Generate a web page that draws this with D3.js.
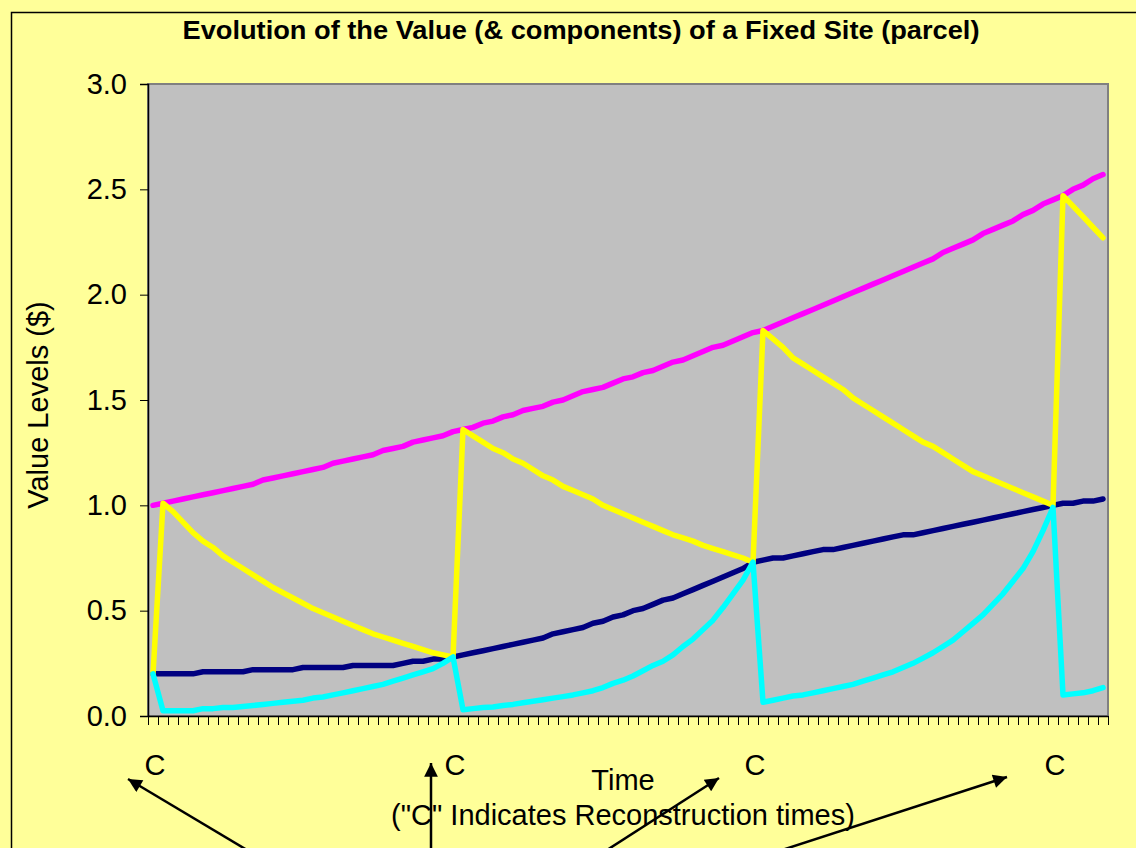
<!DOCTYPE html>
<html>
<head>
<meta charset="utf-8">
<script src="https://cdn.jsdelivr.net/npm/d3@7"></script>
<style>
  html, body { margin: 0; padding: 0; background: #FFFF99; }
  svg { display: block; }
  text { font-family: "Liberation Sans", Arial, sans-serif; }
</style>
</head>
<body>
<svg id="chart" width="1136" height="848"></svg>
<script>
// ---------------- DATA ----------------
const periods = d3.range(96); // time periods (categories)
const reconstructionPeriods = [0, 30, 60, 90];
const reconstructionLabels = ["C", "C", "C", "C"];
const yTickValues = [0, 0.5, 1.0, 1.5, 2.0, 2.5, 3.0];

// magenta: value of a new property on the site
const newPropertyValue = [
  1.00,1.01,1.02,1.03,1.04,1.05,1.06,1.07,1.08,1.09,
  1.10,1.12,1.13,1.14,1.15,1.16,1.17,1.18,1.20,1.21,
  1.22,1.23,1.24,1.26,1.27,1.28,1.30,1.31,1.32,1.33,
  1.35,1.36,1.37,1.39,1.40,1.42,1.43,1.45,1.46,1.47,
  1.49,1.50,1.52,1.54,1.55,1.56,1.58,1.60,1.61,1.63,
  1.64,1.66,1.68,1.69,1.71,1.73,1.75,1.76,1.78,1.80,
  1.82,1.83,1.85,1.87,1.89,1.91,1.93,1.95,1.97,1.99,
  2.01,2.03,2.05,2.07,2.09,2.11,2.13,2.15,2.17,2.20,
  2.22,2.24,2.26,2.29,2.31,2.33,2.35,2.38,2.40,2.43,
  2.45,2.47,2.50,2.52,2.55,2.57
];
// navy
const landValue = [
  0.20,0.20,0.20,0.20,0.20,0.21,0.21,0.21,0.21,0.21,
  0.22,0.22,0.22,0.22,0.22,0.23,0.23,0.23,0.23,0.23,
  0.24,0.24,0.24,0.24,0.24,0.25,0.26,0.26,0.27,0.27,
  0.28,0.29,0.30,0.31,0.32,0.33,0.34,0.35,0.36,0.37,
  0.39,0.40,0.41,0.42,0.44,0.45,0.47,0.48,0.50,0.51,
  0.53,0.55,0.56,0.58,0.60,0.62,0.64,0.66,0.68,0.70,
  0.73,0.74,0.75,0.75,0.76,0.77,0.78,0.79,0.79,0.80,
  0.81,0.82,0.83,0.84,0.85,0.86,0.86,0.87,0.88,0.89,
  0.90,0.91,0.92,0.93,0.94,0.95,0.96,0.97,0.98,0.99,
  1.00,1.01,1.01,1.02,1.02,1.03
];
// yellow
const propertyValue = [
  0.20,1.01,0.97,0.92,0.87,0.83,0.80,0.76,0.73,0.70,
  0.67,0.64,0.61,0.585,0.56,0.535,0.51,0.49,0.47,0.45,
  0.43,0.41,0.39,0.375,0.36,0.345,0.33,0.315,0.30,0.29,
  0.28,1.36,1.33,1.30,1.27,1.25,1.22,1.20,1.17,1.14,
  1.12,1.09,1.07,1.05,1.03,1.00,0.98,0.96,0.94,0.92,
  0.90,0.88,0.86,0.845,0.83,0.81,0.795,0.78,0.765,0.75,
  0.73,1.83,1.79,1.75,1.70,1.67,1.64,1.61,1.58,1.55,
  1.51,1.48,1.45,1.42,1.39,1.36,1.33,1.30,1.28,1.25,
  1.22,1.19,1.16,1.14,1.12,1.10,1.08,1.06,1.04,1.02,
  1.00,2.47,2.42,2.37,2.32,2.27
];
// cyan
const optionValue = [
  0.20,0.025,0.025,0.025,0.025,0.035,0.035,0.04,0.04,0.045,
  0.05,0.055,0.06,0.065,0.07,0.075,0.085,0.09,0.10,0.11,
  0.12,0.13,0.14,0.15,0.165,0.18,0.195,0.21,0.225,0.25,
  0.28,0.03,0.035,0.04,0.043,0.05,0.055,0.063,0.07,0.077,
  0.085,0.092,0.10,0.11,0.12,0.135,0.155,0.17,0.19,0.215,
  0.24,0.26,0.29,0.33,0.365,0.41,0.455,0.515,0.58,0.645,
  0.73,0.065,0.075,0.085,0.095,0.10,0.11,0.12,0.13,0.14,
  0.15,0.165,0.18,0.195,0.21,0.23,0.25,0.275,0.30,0.33,
  0.36,0.40,0.44,0.48,0.53,0.58,0.64,0.70,0.78,0.88,
  0.99,0.10,0.105,0.11,0.12,0.135
];

const seriesList = [
  { name: "New property value", values: newPropertyValue, color: "#FF00FF" },
  { name: "Land value", values: landValue, color: "#000080" },
  { name: "Property value", values: propertyValue, color: "#FFFF00" },
  { name: "Option value", values: optionValue, color: "#00FFFF" }
];

// ---------------- LAYOUT ----------------
const svg = d3.select("#chart");
const plot = { left: 148, right: 1108, top: 84, bottom: 716 };

// chart area frame
svg.append("rect").attr("x", 0).attr("y", 0).attr("width", 1136).attr("height", 848).attr("fill", "#FFFF99");
svg.append("rect").attr("x", 11.5).attr("y", 12.5).attr("width", 1300).attr("height", 1000)
  .attr("fill", "none").attr("stroke", "#000").attr("stroke-width", 1.5);

const x = d3.scaleBand().domain(periods).range([plot.left, plot.right]).paddingInner(0).paddingOuter(0);
const xc = d => x(d) + x.bandwidth() / 2;
const y = d3.scaleLinear().domain([0, 3]).range([plot.bottom, plot.top]);

// plot area
svg.append("rect").attr("x", plot.left).attr("y", plot.top)
  .attr("width", plot.right - plot.left).attr("height", plot.bottom - plot.top)
  .attr("fill", "#C0C0C0").attr("stroke", "#808080").attr("stroke-width", 2);

// title
svg.append("text").attr("x", 581).attr("y", 39).attr("text-anchor", "middle")
  .attr("font-size", 25).attr("font-weight", "bold")
  .attr("textLength", 797).attr("lengthAdjust", "spacingAndGlyphs")
  .text("Evolution of the Value (& components) of a Fixed Site (parcel)");

// lines
const line = d3.line().x((d, i) => xc(periods[i])).y(d => y(d));
seriesList.forEach(s => {
  svg.append("path").datum(s.values).attr("d", line)
    .attr("fill", "none").attr("stroke", s.color).attr("stroke-width", 5.5)
    .attr("stroke-linejoin", "round").attr("stroke-linecap", "round");
});

// y axis
const yAxis = svg.append("g").attr("transform", `translate(${plot.left},0)`)
  .call(d3.axisLeft(y).tickValues(yTickValues).tickFormat(d3.format(".1f")).tickSize(8).tickPadding(13));
yAxis.select(".domain").attr("stroke", "#000").attr("stroke-width", 1.5);
yAxis.selectAll(".tick line").attr("stroke", "#000");
yAxis.selectAll(".tick text").attr("font-size", 29).attr("fill", "#000")
  .attr("font-family", "Liberation Sans, Arial, sans-serif");

// x axis: tick marks at category boundaries
const xb = d3.scaleLinear().domain([0, periods.length]).range([plot.left, plot.right]);
const xAxis = svg.append("g").attr("transform", `translate(0,${plot.bottom})`)
  .call(d3.axisBottom(xb).tickValues(d3.range(periods.length + 1)).tickFormat("").tickSize(9).tickSizeOuter(0));
xAxis.select(".domain").attr("stroke", "#000").attr("stroke-width", 1.5);
xAxis.selectAll(".tick line").attr("stroke", "#000");

// x labels "C" at reconstruction periods
svg.append("g").selectAll("text").data(reconstructionPeriods).join("text")
  .attr("x", d => xc(d) + 2).attr("y", 775).attr("text-anchor", "middle")
  .attr("font-size", 29).text((d, i) => reconstructionLabels[i]);

// axis titles
svg.append("text").attr("transform", "translate(48,405) rotate(-90)").attr("text-anchor", "middle")
  .attr("font-size", 29).text("Value Levels ($)");
svg.append("text").attr("x", 623).attr("y", 790).attr("text-anchor", "middle")
  .attr("font-size", 29).text("Time");
svg.append("text").attr("x", 623).attr("y", 825).attr("text-anchor", "middle")
  .attr("font-size", 29).text("(\"C\" Indicates Reconstruction times)");

// arrows
const defs = svg.append("defs");
defs.append("marker").attr("id", "arrow").attr("viewBox", "0 0 10 10")
  .attr("refX", 10).attr("refY", 5).attr("markerWidth", 6.5).attr("markerHeight", 5.5)
  .attr("markerUnits", "strokeWidth").attr("orient", "auto")
  .append("path").attr("d", "M0,0 L10,5 L0,10 Z").attr("fill", "#000");
const arrows = [
  [[247, 850], [128, 779]],
  [[431, 850], [431, 763]],
  [[607, 850], [719, 778]],
  [[782, 850], [1007, 777]]
];
svg.append("g").selectAll("line").data(arrows).join("line")
  .attr("x1", d => d[0][0]).attr("y1", d => d[0][1])
  .attr("x2", d => d[1][0]).attr("y2", d => d[1][1])
  .attr("stroke", "#000").attr("stroke-width", 2.5).attr("marker-end", "url(#arrow)");
</script>
</body>
</html>
